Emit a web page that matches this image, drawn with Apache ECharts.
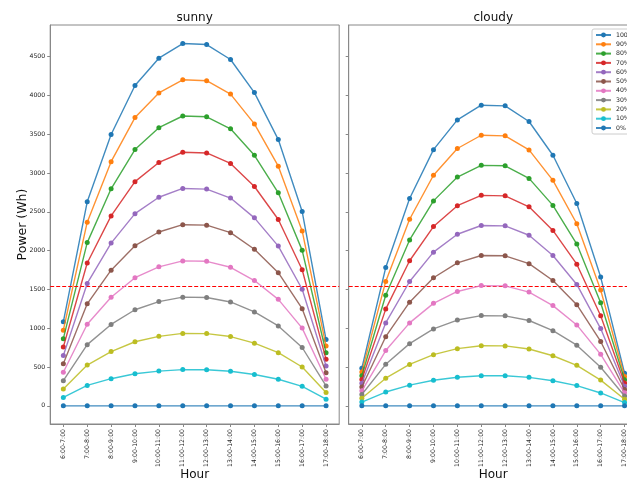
<!DOCTYPE html>
<html>
<head>
<meta charset="utf-8">
<script src="https://cdn.jsdelivr.net/npm/echarts@6/dist/echarts.min.js"></script>
<style>
html,body{margin:0;padding:0;overflow:hidden;background:#fff;}
#c{width:640px;height:480px;}
</style>
</head>
<body>
<div id="c"></div>
<script>
const hours = ['6:00-7:00','7:00-8:00','8:00-9:00','9:00-10:00','10:00-11:00','11:00-12:00','12:00-13:00','13:00-14:00','14:00-15:00','15:00-16:00','16:00-17:00','17:00-18:00'];
const levels = ['100%','90%','80%','70%','60%','50%','40%','30%','20%','10%','0%'];
const yTicks = [0,500,1000,1500,2000,2500,3000,3500,4000,4500];
const threshold = 1540;

const sunny100 = [1083, 2630, 3497, 4129, 4481, 4670, 4657, 4464, 4038, 3432, 2505, 855];
const sunny90  = [975, 2367, 3147, 3716, 4033, 4203, 4191, 4018, 3634, 3089, 2255, 770];
const sunny80  = [866, 2104, 2798, 3303, 3585, 3736, 3726, 3571, 3230, 2746, 2004, 684];
const sunny70  = [758, 1841, 2448, 2890, 3137, 3269, 3260, 3125, 2827, 2402, 1754, 599];
const sunny60  = [650, 1578, 2098, 2477, 2689, 2802, 2794, 2678, 2423, 2059, 1503, 513];
const sunny50  = [542, 1315, 1749, 2065, 2241, 2335, 2329, 2232, 2019, 1716, 1253, 428];
const sunny40  = [433, 1052, 1399, 1652, 1792, 1868, 1863, 1786, 1615, 1373, 1002, 342];
const sunny30  = [325, 789, 1049, 1239, 1344, 1401, 1397, 1339, 1211, 1030, 752, 257];
const sunny20  = [217, 526, 699, 826, 896, 934, 931, 893, 808, 686, 501, 171];
const sunny10  = [108, 263, 350, 413, 448, 467, 466, 446, 404, 343, 251, 86];
const sunny0   = [0, 0, 0, 0, 0, 0, 0, 0, 0, 0, 0, 0];

const cloudy100 = [485, 1782, 2672, 3302, 3686, 3875, 3867, 3665, 3230, 2608, 1660, 420];
const cloudy90  = [437, 1604, 2405, 2972, 3317, 3488, 3480, 3299, 2907, 2347, 1494, 378];
const cloudy80  = [388, 1426, 2138, 2642, 2949, 3100, 3094, 2932, 2584, 2086, 1328, 336];
const cloudy70  = [340, 1247, 1870, 2311, 2580, 2713, 2707, 2566, 2261, 1826, 1162, 294];
const cloudy60  = [291, 1069, 1603, 1981, 2212, 2325, 2320, 2199, 1938, 1565, 996, 252];
const cloudy50  = [243, 891, 1336, 1651, 1843, 1938, 1934, 1833, 1615, 1304, 830, 210];
const cloudy40  = [194, 713, 1069, 1321, 1474, 1550, 1547, 1466, 1292, 1043, 664, 168];
const cloudy30  = [146, 535, 802, 991, 1106, 1163, 1160, 1100, 969, 782, 498, 126];
const cloudy20  = [97, 356, 534, 660, 737, 775, 773, 733, 646, 522, 332, 84];
const cloudy10  = [49, 178, 267, 330, 369, 388, 387, 367, 323, 261, 166, 42];
const cloudy0   = [0, 0, 0, 0, 0, 0, 0, 0, 0, 0, 0, 0];

const sunnySeries = [sunny100,sunny90,sunny80,sunny70,sunny60,sunny50,sunny40,sunny30,sunny20,sunny10,sunny0];
const cloudySeries = [cloudy100,cloudy90,cloudy80,cloudy70,cloudy60,cloudy50,cloudy40,cloudy30,cloudy20,cloudy10,cloudy0];
const colors = ['#1f77b4','#ff7f0e','#2ca02c','#d62728','#9467bd','#8c564b','#e377c2','#7f7f7f','#bcbd22','#17becf','#1f77b4'];

const FONT = 'DejaVu Sans';
const frame = '#888';
const idx = hours.map((h,i)=>i);

function xAxis(gi){
  return {
    type:'value', gridIndex:gi, min:-0.55, max:11.55,
    splitLine:{show:false},
    axisLine:{show:true, onZero:false, lineStyle:{color:frame, width:1}},
    axisTick:{show:true, customValues:idx, length:3, lineStyle:{color:frame}},
    axisLabel:{customValues:idx, rotate:90, margin:5, fontSize:6.2, color:'#222', fontFamily:FONT,
      formatter:(v)=>hours[Math.round(v)]},
    name:'Hour', nameLocation:'middle', nameGap:45, nameMoveOverlap:false,
    nameTextStyle:{fontSize:12, color:'#111', fontFamily:FONT}
  };
}
function yAxis(gi, showLabels){
  const a = {
    type:'value', gridIndex:gi, min:-234, max:4909,
    splitLine:{show:false},
    axisLine:{show:true, onZero:false, lineStyle:{color:frame, width:1}},
    axisTick:{show:true, customValues:yTicks, length:3, lineStyle:{color:frame}},
    axisLabel:{show:showLabels, customValues:yTicks, margin:5, fontSize:6.2, color:'#222', fontFamily:FONT,
      formatter:(v)=>String(Math.round(v))}
  };
  if(showLabels){
    a.name='Power (Wh)'; a.nameLocation='middle'; a.nameGap=21; a.nameMoveOverlap=false;
    a.nameTextStyle={fontSize:12.5, color:'#111', fontFamily:FONT};
  }
  return a;
}

const series = [];
[sunnySeries, cloudySeries].forEach((group, gi)=>{
  group.forEach((vals, si)=>{
    const s = {
      type:'line', name:levels[si], xAxisIndex:gi, yAxisIndex:gi,
      data: vals.map((v,i)=>[idx[i], v]),
      symbol:'circle', symbolSize:5, showSymbol:true,
      itemStyle:{color:colors[si]},
      lineStyle:{color:colors[si], width:1.4, opacity:0.85},
      emphasis:{disabled:true}, animation:false, z: 2+si
    };
    if(si===0){
      s.markLine = {
        silent:true, symbol:['none','none'], label:{show:false},
        lineStyle:{color:'#ff0000', type:[4,2], width:1},
        data:[{yAxis:threshold}], animation:false
      };
    }
    series.push(s);
  });
});

const chart = echarts.init(document.getElementById('c'), null, {renderer:'canvas'});
chart.setOption({
  animation:false,
  color:colors,
  grid:[
    {left:50.2, top:25, width:289, height:399, show:true, borderColor:frame, borderWidth:1, backgroundColor:'transparent', containLabel:false, outerBoundsMode:'none'},
    {left:348.7, top:25, width:289, height:399, show:true, borderColor:frame, borderWidth:1, backgroundColor:'transparent', containLabel:false, outerBoundsMode:'none'}
  ],
  xAxis:[xAxis(0), xAxis(1)],
  yAxis:[yAxis(0,true), yAxis(1,false)],
  legend:{
    orient:'vertical', left:592, top:29, padding:[3,4,3,3],
    data:levels, itemWidth:15, itemHeight:6, itemGap:3.3,
    backgroundColor:'rgba(255,255,255,0.9)', borderColor:'#ccc', borderWidth:1, borderRadius:2,
    textStyle:{fontSize:6.2, lineHeight:6, color:'#222', fontFamily:FONT},
    selectedMode:false
  },
  graphic:[
    {type:'text', x:194.7, y:18, style:{text:'sunny', textAlign:'center', textVerticalAlign:'middle', font:'12px "DejaVu Sans"', fill:'#111'}},
    {type:'text', x:493.2, y:18, style:{text:'cloudy', textAlign:'center', textVerticalAlign:'middle', font:'12px "DejaVu Sans"', fill:'#111'}}
  ],
  series:series
});
</script>
</body>
</html>
